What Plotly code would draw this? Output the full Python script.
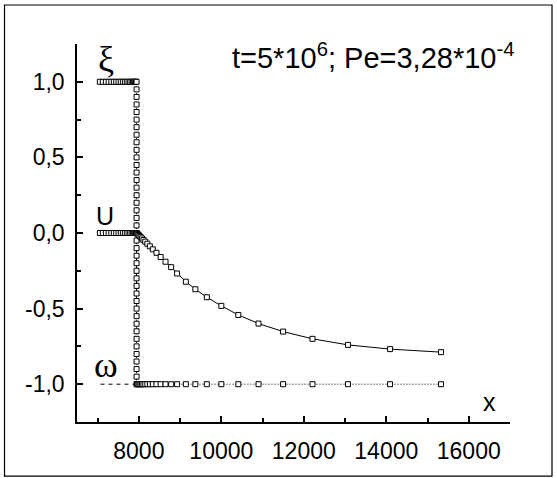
import plotly.graph_objects as go

# mesh left of the front (y = 1 for xi, 0 for U)
x_left = [7055, 7127, 7200, 7268, 7333, 7394, 7452, 7508, 7561, 7612, 7661, 7707,
          7750, 7789, 7825, 7857, 7886, 7910, 7930, 7944]
# front position
x_front = 7944
# mesh right of the front
x_right = [7952, 7971, 7993, 8017, 8044, 8075, 8112, 8155, 8206, 8267, 8339, 8427,
           8528, 8647, 8783, 8928, 9139, 9370, 9648, 10000, 10412, 10902, 11498,
           12211, 13071, 14092, 15328]
u_right = [-0.002, -0.007, -0.013, -0.020, -0.027, -0.036, -0.046, -0.057, -0.071,
           -0.088, -0.108, -0.131, -0.159, -0.190, -0.226, -0.268, -0.322, -0.372,
           -0.425, -0.482, -0.542, -0.599, -0.652, -0.700, -0.740, -0.768, -0.788]
# values of xi along the jump
xi_jump = [1.0, 0.95, 0.9, 0.85, 0.8, 0.75, 0.7, 0.65, 0.6, 0.55, 0.5, 0.45, 0.4,
           0.35, 0.3, 0.25, 0.2, 0.15, 0.1, 0.05, 0.0, -0.05, -0.1, -0.15, -0.2,
           -0.25, -0.3, -0.35, -0.4, -0.45, -0.5, -0.55, -0.6, -0.65, -0.7, -0.75,
           -0.8, -0.85, -0.9, -0.95, -1.0]
omega_x = [7070, 7944, 7944]
omega_y = [-1.0, -1.0, 0.0]

x_ticks = [8000, 10000, 12000, 14000, 16000]
x_ticktext = ["8000", "10000", "12000", "14000", "16000"]
y_ticks = [1.0, 0.5, 0.0, -0.5, -1.0]
y_ticktext = ["1,0", "0,5", "0,0", "-0,5", "-1,0"]

title_text = "t=5*10<sup>6</sup>; Pe=3,28*10<sup>-4</sup>"

marker = dict(symbol="square", size=5, color="white", line=dict(color="black", width=1))

fig = go.Figure()

# omega (dashed, no markers)
fig.add_trace(go.Scatter(x=omega_x, y=omega_y, mode="lines",
                         line=dict(color="black", width=1, dash="4px,4px"),
                         showlegend=False, hoverinfo="skip"))

# xi
xi_x = x_left[:-1] + [x_front] * len(xi_jump) + x_right
xi_y = [1.0] * (len(x_left) - 1) + xi_jump + [-1.0] * len(x_right)
fig.add_trace(go.Scatter(x=xi_x, y=xi_y, mode="lines+markers",
                         line=dict(color="black", width=1, dash="1px,2px"),
                         marker=marker, showlegend=False))

# U
u_x = x_left + x_right
u_y = [0.0] * len(x_left) + u_right
fig.add_trace(go.Scatter(x=u_x, y=u_y, mode="lines+markers",
                         line=dict(color="black", width=1),
                         marker=marker, showlegend=False))

font_main = dict(family="Liberation Sans, Arial, sans-serif", size=23, color="black")

annots = [
    dict(x=7200, y=1.15, text="ξ", font=dict(family="Liberation Serif, serif", size=36, color="black")),
    dict(x=7176, y=0.112, text="U", font=dict(family="Liberation Sans, Arial", size=25, color="black")),
    dict(x=7212, y=-0.875, text="ω", font=dict(family="Liberation Serif, serif", size=36, color="black")),
    dict(x=16496, y=-1.12, text="x", font=dict(family="Liberation Sans, Arial", size=25, color="black")),
]
for a in annots:
    fig.add_annotation(x=a["x"], y=a["y"], xref="x", yref="y", text=a["text"],
                       showarrow=False, font=a["font"], xanchor="center", yanchor="middle")

fig.add_annotation(x=10206, y=1.17, xref="x", yref="y", text=title_text, showarrow=False,
                   xanchor="left", yanchor="middle",
                   font=dict(family="Liberation Sans, Arial", size=29, color="black"))

# outer frame
fig.add_shape(type="rect", xref="paper", yref="paper",
              x0=-0.1674, x1=1.097, y0=-0.143, y1=1.1032,
              line=dict(color="black", width=1.2), fillcolor="rgba(0,0,0,0)")

fig.update_layout(
    width=557, height=478,
    margin=dict(l=77, r=47, t=44, b=56, autoexpand=False),
    paper_bgcolor="white", plot_bgcolor="white",
    font=font_main,
    showlegend=False,
)
fig.update_xaxes(range=[6500, 17000], showgrid=False, zeroline=False, automargin=False,
                 showline=True, linecolor="black", linewidth=1.5,
                 tickmode="array", tickvals=x_ticks, ticktext=x_ticktext,
                 ticks="inside", ticklen=6, tickwidth=1.5, tickcolor="black",
                 ticklabelstandoff=8,
                 minor=dict(ticks="inside", ticklen=4, tickwidth=1.5, tickcolor="black",
                            tick0=7000, dtick=2000, showgrid=False),
                 tickfont=font_main)
fig.update_yaxes(range=[-1.25, 1.25], showgrid=False, zeroline=False, automargin=False,
                 showline=True, linecolor="black", linewidth=1.5,
                 tickmode="array", tickvals=y_ticks, ticktext=y_ticktext,
                 ticks="inside", ticklen=6, tickwidth=1.5, tickcolor="black",
                 ticklabelstandoff=6,
                 minor=dict(ticks="inside", ticklen=4, tickwidth=1.5, tickcolor="black",
                            tick0=-1.25, dtick=0.5, showgrid=False),
                 tickfont=font_main)

fig.write_html("out.html", config={"displayModeBar": False},
               post_script="document.body.style.margin='0px';document.body.style.overflow='hidden';")
